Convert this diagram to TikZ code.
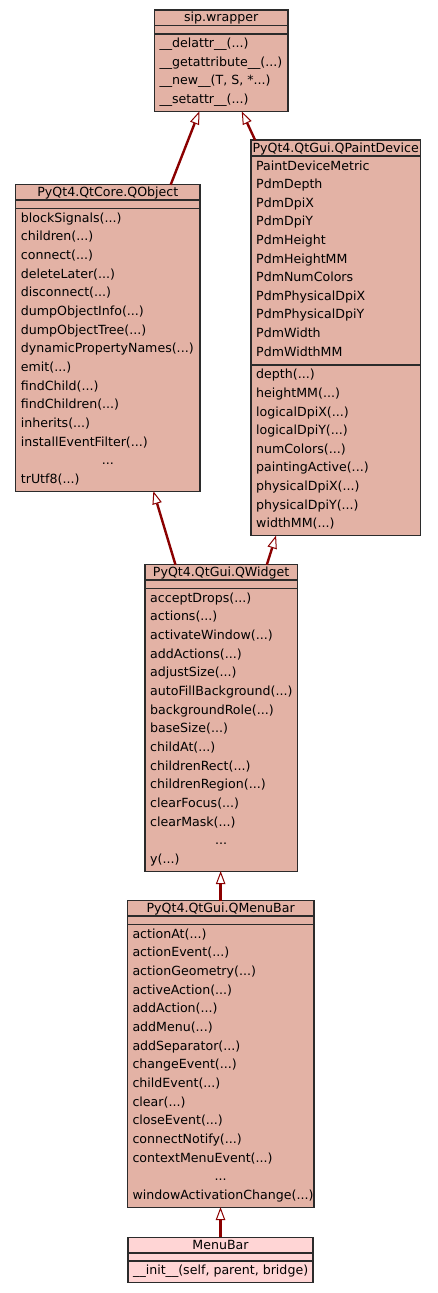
\documentclass[tikz,border=0pt]{standalone}
\usepackage{fontspec}
\setmainfont{DejaVu Sans}
\usetikzlibrary{arrows.meta, calc}
\definecolor{uclass}{HTML}{E3B2A5}
\definecolor{uown}{HTML}{FFD5D5}
\definecolor{uedge}{HTML}{8B0000}
\definecolor{uline}{HTML}{2B2B2B}
\tikzset{
  cbox/.style={draw=uline, fill=uclass, line width=1.2pt, anchor=north west,
               inner sep=0pt, outer sep=0pt},
  obox/.style={cbox, fill=uown},
  csep/.style={draw=uline, line width=1.6pt},
  ctitle/.style={font=\fontsize{12.6}{15}\selectfont, inner sep=0pt,
                 text height=10.5pt, text depth=2.5pt},
  crow/.style={ctitle, anchor=west},
  inh/.style={-{Triangle[open, fill=white, length=13pt, width=9.5pt, line width=1pt]},
              uedge, line width=2.4pt},
}

\begin{document}
\begin{tikzpicture}[x=1pt, y=-1pt]
  \useasboundingbox[fill=white] (0,0) rectangle (437,1293);

  % sip.wrapper
  \node[cbox, minimum width=133.7pt, minimum height=101.3pt] (wrapper) at (154.3,10) {};
  \draw[csep] ([yshift=-15.5pt]wrapper.north west) -- ([yshift=-15.5pt]wrapper.north east);
  \draw[csep] ([yshift=-23.8pt]wrapper.north west) -- ([yshift=-23.8pt]wrapper.north east);
  \node[ctitle] (wrappert) at ([yshift=-7.75pt]wrapper.north) {sip.wrapper};
  \node[crow] at ($(wrapper.north west)+(5,33.5)$) {\_\_delattr\_\_(...)};
  \node[crow] at ($(wrapper.north west)+(5,52.15)$) {\_\_getattribute\_\_(...)};
  \node[crow] at ($(wrapper.north west)+(5,70.8)$) {\_\_new\_\_(T, S, *...)};
  \node[crow] at ($(wrapper.north west)+(5,89.45)$) {\_\_setattr\_\_(...)};

  % PyQt4.QtCore.QObject
  \node[cbox, minimum width=184.3pt, minimum height=306.4pt] (qobject) at (15.7,184.7) {};
  \draw[csep] ([yshift=-15.5pt]qobject.north west) -- ([yshift=-15.5pt]qobject.north east);
  \draw[csep] ([yshift=-23.8pt]qobject.north west) -- ([yshift=-23.8pt]qobject.north east);
  \node[ctitle] (qobjectt) at ([yshift=-7.75pt]qobject.north) {PyQt4.QtCore.QObject};
  \foreach \m [count=\i from 0] in {blockSignals, children, connect, deleteLater,
      disconnect, dumpObjectInfo, dumpObjectTree, dynamicPropertyNames, emit,
      findChild, findChildren, inherits, installEventFilter}
    \node[crow] at ($(qobject.north west)+(5,33.5+18.65*\i)$) {\m(...)};
  \node[ctitle] at ($(qobject.north)+(0,33.5+18.65*13)$) {...};
  \node[crow] at ($(qobject.north west)+(5,33.5+18.65*14)$) {trUtf8(...)};

  % PyQt4.QtGui.QPaintDevice
  \node[cbox, minimum width=169.3pt, minimum height=395.5pt] (qpaint) at (251,140) {};
  \draw[csep] ([yshift=-16pt]qpaint.north west) -- ([yshift=-16pt]qpaint.north east);
  \draw[csep] ([yshift=-224.8pt]qpaint.north west) -- ([yshift=-224.8pt]qpaint.north east);
  \node[ctitle] (qpaintt) at ([yshift=-8pt]qpaint.north) {PyQt4.QtGui.QPaintDevice};
  \foreach \m [count=\i from 0] in {PaintDeviceMetric, PdmDepth, PdmDpiX, PdmDpiY,
      PdmHeight, PdmHeightMM, PdmNumColors, PdmPhysicalDpiX, PdmPhysicalDpiY,
      PdmWidth, PdmWidthMM}
    \node[crow] at ($(qpaint.north west)+(5,26+18.6*\i)$) {\m};
  \foreach \m [count=\i from 0] in {depth, heightMM, logicalDpiX, logicalDpiY,
      numColors, paintingActive, physicalDpiX, physicalDpiY, widthMM}
    \node[crow] at ($(qpaint.north west)+(5,234.8+18.6*\i)$) {\m(...)};

  % PyQt4.QtGui.QWidget
  \node[cbox, minimum width=152.3pt, minimum height=306.4pt] (qwidget) at (145,564.7) {};
  \draw[csep] ([yshift=-15.5pt]qwidget.north west) -- ([yshift=-15.5pt]qwidget.north east);
  \draw[csep] ([yshift=-23.8pt]qwidget.north west) -- ([yshift=-23.8pt]qwidget.north east);
  \node[ctitle] (qwidgett) at ([yshift=-7.75pt]qwidget.north) {PyQt4.QtGui.QWidget};
  \foreach \m [count=\i from 0] in {acceptDrops, actions, activateWindow, addActions,
      adjustSize, autoFillBackground, backgroundRole, baseSize, childAt,
      childrenRect, childrenRegion, clearFocus, clearMask}
    \node[crow] at ($(qwidget.north west)+(5,33.5+18.65*\i)$) {\m(...)};
  \node[ctitle] at ($(qwidget.north)+(0,33.5+18.65*13)$) {...};
  \node[crow] at ($(qwidget.north west)+(5,33.5+18.65*14)$) {y(...)};

  % PyQt4.QtGui.QMenuBar
  \node[cbox, minimum width=186.7pt, minimum height=306.4pt] (qmenubar) at (127.3,900.7) {};
  \draw[csep] ([yshift=-15.5pt]qmenubar.north west) -- ([yshift=-15.5pt]qmenubar.north east);
  \draw[csep] ([yshift=-23.8pt]qmenubar.north west) -- ([yshift=-23.8pt]qmenubar.north east);
  \node[ctitle] (qmenubart) at ([yshift=-7.75pt]qmenubar.north) {PyQt4.QtGui.QMenuBar};
  \foreach \m [count=\i from 0] in {actionAt, actionEvent, actionGeometry,
      activeAction, addAction, addMenu, addSeparator, changeEvent, childEvent,
      clear, closeEvent, connectNotify, contextMenuEvent}
    \node[crow] at ($(qmenubar.north west)+(5,33.5+18.65*\i)$) {\m(...)};
  \node[ctitle] at ($(qmenubar.north)+(0,33.5+18.65*13)$) {...};
  \node[crow] at ($(qmenubar.north west)+(5,33.5+18.65*14)$) {windowActivationChange(...)};

  % MenuBar
  \node[obox, minimum width=185pt, minimum height=45.3pt] (menubar) at (128,1237.3) {};
  \draw[csep] ([yshift=-15.5pt]menubar.north west) -- ([yshift=-15.5pt]menubar.north east);
  \draw[csep] ([yshift=-23.8pt]menubar.north west) -- ([yshift=-23.8pt]menubar.north east);
  \node[ctitle] (menubart) at ([yshift=-7.75pt]menubar.north) {MenuBar};
  \node[crow] at ($(menubar.north west)+(5,33.5)$) {\_\_init\_\_(self, parent, bridge)};

  % inheritance
  \draw[inh] ($(qobject.north west)!0.841!(qobject.north east)$)
    -- ($(wrapper.south west)!0.337!(wrapper.south east)$);
  \draw[inh] ($(qpaint.north west)!0.024!(qpaint.north east)$)
    -- ($(wrapper.south west)!0.654!(wrapper.south east)$);
  \draw[inh] ($(qwidget.north west)!0.2!(qwidget.north east)$)
    -- ($(qobject.south west)!0.747!(qobject.south east)$);
  \draw[inh] ($(qwidget.north west)!0.8!(qwidget.north east)$)
    -- ($(qpaint.south west)!0.148!(qpaint.south east)$);
  \draw[inh] (qmenubar.north) -- (qmenubar.north |- qwidget.south);
  \draw[inh] (menubar.north) -- (menubar.north |- qmenubar.south);
\end{tikzpicture}
\end{document}
